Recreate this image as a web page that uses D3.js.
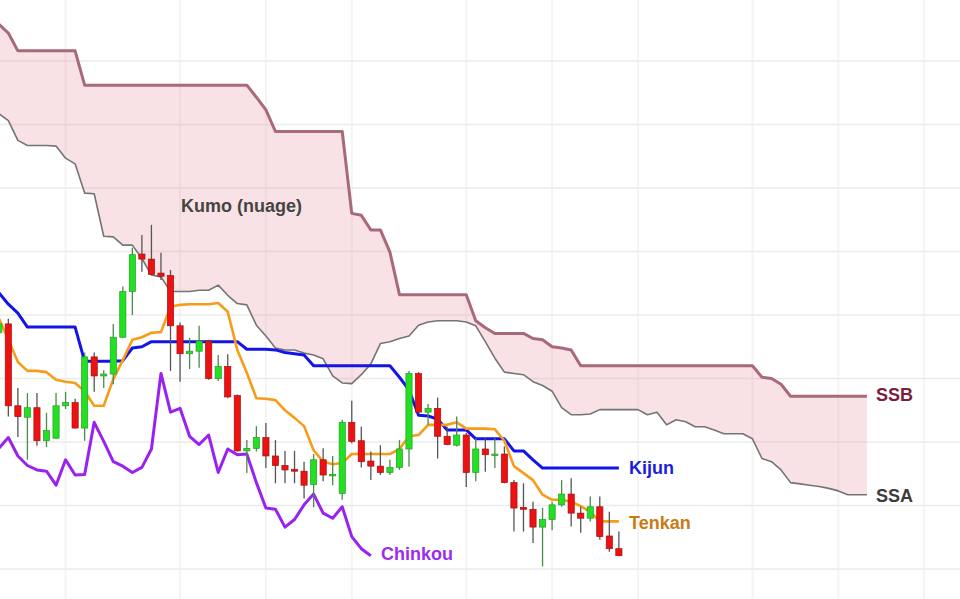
<!DOCTYPE html>
<html><head><meta charset="utf-8">
<script src="https://cdn.jsdelivr.net/npm/d3@7"></script>
<style>html,body{margin:0;padding:0;background:#fff;overflow:hidden}</style>
</head><body><svg id="chart" width="960" height="599"></svg>
<script>
// ---- Data (period index 0 = first visible candle) ----
const candleOpen  = [23.72,23.86,22.57,22.39,22.54,22.02,22.06,22.57,22.62,22.22,23.34,23.04,23.07,23.65,24.37,24.96,24.88,24.66,24.62,23.83,23.39,23.43,23.59,23.00,23.19,22.73,21.86,21.90,22.07,21.78,21.63,21.57,21.54,21.33,21.72,21.48,21.19,22.31,22.02,21.70,21.62,21.52,21.60,21.89,23.08,22.47,22.53,22.09,21.95,22.11,21.52,21.89,21.80,21.81,21.36,20.97,20.94,20.66,20.78,21.01,21.18,20.88,20.80,20.98,20.52,20.32];
const candleHigh  = [23.95,23.94,22.85,22.77,22.77,22.46,22.77,22.79,22.68,23.41,23.41,23.13,23.86,24.45,25.06,25.26,25.42,24.98,24.71,23.88,23.64,23.83,23.61,23.37,23.38,22.75,22.03,22.25,22.30,22.03,21.86,21.86,21.69,21.81,21.90,21.78,22.35,22.65,22.24,21.85,21.95,21.72,22.03,23.12,23.10,22.60,22.70,22.24,22.40,22.14,22.06,22.06,22.06,21.93,21.40,21.35,21.06,20.96,21.06,21.40,21.43,20.98,21.14,21.14,20.90,20.59];
const candleLow   = [23.67,22.40,22.08,21.72,21.94,21.92,22.05,22.52,22.21,22.02,22.79,22.85,22.91,23.64,24.00,24.68,24.63,24.55,23.12,22.95,23.15,23.17,22.98,22.96,22.69,21.85,21.51,21.85,21.59,21.35,21.35,21.35,21.11,20.97,21.38,21.32,21.09,21.98,21.60,21.40,21.48,21.48,21.56,21.61,22.46,22.27,21.74,21.95,21.93,21.29,21.38,21.53,21.59,21.35,20.59,20.59,20.41,20.04,20.61,20.98,20.67,20.57,20.75,20.46,20.27,20.20];
const candleClose = [23.86,22.57,22.40,22.54,22.02,22.18,22.57,22.62,22.22,23.34,23.04,23.07,23.65,24.37,24.95,24.88,24.64,24.61,23.83,23.39,23.43,23.59,23.00,23.19,22.71,21.86,21.90,22.07,21.78,21.63,21.56,21.54,21.32,21.72,21.48,21.49,22.31,22.01,21.69,21.62,21.52,21.60,21.89,23.08,22.47,22.53,22.09,21.96,22.11,21.52,21.89,21.80,21.81,21.36,20.96,20.94,20.66,20.78,21.01,21.18,20.88,20.80,20.98,20.51,20.32,20.21];

const tenkan = [23.95,23.61,23.26,23.12,23.12,23.10,22.98,22.95,22.93,22.80,22.57,22.57,22.99,23.29,23.61,23.65,23.72,23.73,24.13,24.16,24.17,24.17,24.17,24.19,24.05,23.45,23.09,22.69,22.68,22.66,22.50,22.38,22.25,21.87,21.69,21.65,21.67,21.81,21.81,21.81,21.81,21.81,21.89,22.09,22.11,22.27,22.27,22.27,22.31,22.21,22.21,22.21,22.20,22.02,21.62,21.51,21.40,21.17,21.09,21.09,21.06,20.99,20.90,20.75,20.75,20.75];
const kijun  = [24.35,24.17,24.03,23.81,23.81,23.81,23.81,23.81,23.81,23.27,23.27,23.27,23.27,23.28,23.48,23.50,23.58,23.58,23.58,23.58,23.58,23.58,23.58,23.58,23.58,23.58,23.46,23.46,23.46,23.45,23.41,23.39,23.37,23.20,23.20,23.20,23.20,23.20,23.20,23.20,23.20,23.20,23.02,22.82,22.42,22.41,22.36,22.19,22.19,22.19,22.05,22.05,22.05,22.05,21.86,21.86,21.72,21.59,21.59,21.59,21.59,21.59,21.59,21.59,21.59,21.59];
const chinkou = [21.90,22.07,21.78,21.63,21.56,21.54,21.32,21.72,21.48,21.49,22.31,22.01,21.69,21.62,21.52,21.60,21.89,23.08,22.47,22.53,22.09,21.96,22.11,21.52,21.89,21.80,21.81,21.36,20.96,20.94,20.66,20.78,21.01,21.18,20.88,20.80,20.98,20.51,20.32,20.21];
const ssa = [27.17,27.06,26.75,26.67,26.67,26.67,26.66,26.47,26.38,25.92,25.91,25.24,25.23,25.10,25.10,24.89,24.63,24.60,24.37,24.37,24.37,24.39,24.39,24.47,24.31,24.18,24.16,23.84,23.67,23.48,23.45,23.45,23.40,23.37,23.31,23.04,22.93,22.92,23.06,23.23,23.55,23.58,23.63,23.67,23.84,23.89,23.91,23.91,23.91,23.89,23.83,23.58,23.32,23.10,23.08,23.06,22.95,22.89,22.80,22.54,22.43,22.43,22.44,22.51,22.51,22.51,22.51,22.51,22.43,22.47,22.27,22.35,22.32,22.24,22.24,22.19,22.13,22.13,22.13,22.05,21.74,21.69,21.56,21.36,21.34,21.32,21.30,21.27,21.23,21.17,21.17,21.17];
const ssb = [28.58,28.44,28.16,28.16,28.16,28.16,28.16,28.16,28.16,27.62,27.62,27.62,27.62,27.62,27.62,27.62,27.62,27.62,27.62,27.62,27.62,27.62,27.62,27.62,27.62,27.62,27.62,27.43,27.23,26.89,26.89,26.89,26.89,26.89,26.89,26.89,26.89,25.60,25.57,25.34,25.34,24.99,24.32,24.32,24.32,24.32,24.32,24.32,24.32,24.32,23.91,23.80,23.71,23.71,23.71,23.71,23.63,23.61,23.50,23.48,23.45,23.20,23.20,23.20,23.20,23.20,23.20,23.20,23.20,23.20,23.20,23.20,23.20,23.20,23.20,23.20,23.20,23.20,23.20,23.20,23.02,23.00,22.91,22.72,22.72,22.72,22.72,22.72,22.72,22.72,22.72,22.72];

const priceTicks = [20,21,22,23,24,25,26,27,28];
const timeGridIndex = [7,19,28,37,49,58,67,79,88,97];

// ---- Scales ----
const W = 960, H = 599;
const x = d3.scaleLinear().domain([0, 91]).range([-1.2, 866.9]);
const y = d3.scaleLinear().domain([20, 28]).range([569, 61]);

const svg = d3.select('#chart');
svg.append('rect').attr('width', W).attr('height', H).attr('fill', '#fff');

// grid
svg.append('g').selectAll('line').data(timeGridIndex).join('line')
  .attr('x1', d => x(d)).attr('x2', d => x(d)).attr('y1', 0).attr('y2', H)
  .attr('stroke', '#f4f4f4').attr('stroke-width', 2);
svg.append('g').selectAll('line').data(priceTicks).join('line')
  .attr('x1', 0).attr('x2', W).attr('y1', d => y(d)).attr('y2', d => y(d))
  .attr('stroke', '#ebebeb').attr('stroke-width', 1.5);

// cloud
const cloudArea = d3.area().x((d, i) => x(i)).y0((d, i) => y(ssa[i])).y1(d => y(d));
svg.append('path').datum(ssb).attr('d', cloudArea)
  .attr('fill', 'rgb(232,150,160)').attr('fill-opacity', 0.28);

const lineGen = d3.line().x((d, i) => x(i)).y(d => y(d));
svg.append('path').datum(ssb).attr('d', lineGen).attr('fill', 'none')
  .attr('stroke', '#a86a7a').attr('stroke-width', 3).attr('stroke-linejoin', 'round');
svg.append('path').datum(ssa).attr('d', lineGen).attr('fill', 'none')
  .attr('stroke', '#747474').attr('stroke-width', 1.6).attr('stroke-linejoin', 'round');

// chinkou, kijun, tenkan
svg.append('path').datum(chinkou).attr('d', lineGen).attr('fill', 'none')
  .attr('stroke', '#9a22f0').attr('stroke-width', 3).attr('stroke-linejoin', 'round');
svg.append('path').datum(kijun).attr('d', lineGen).attr('fill', 'none')
  .attr('stroke', '#1414e6').attr('stroke-width', 3).attr('stroke-linejoin', 'round');
svg.append('path').datum(tenkan).attr('d', lineGen).attr('fill', 'none')
  .attr('stroke', '#f89c18').attr('stroke-width', 2.6).attr('stroke-linejoin', 'round');

// candles
const candles = candleOpen.map((o, i) => ({i, o, h: candleHigh[i], l: candleLow[i], c: candleClose[i]}));
const cg = svg.append('g');
const bw = 6.2;
cg.selectAll('line').data(candles).join('line')
  .attr('x1', d => x(d.i)).attr('x2', d => x(d.i))
  .attr('y1', d => y(d.h)).attr('y2', d => y(d.l))
  .attr('stroke', d => d.c >= d.o ? '#4a8a4a' : '#555').attr('stroke-width', 1.3);
cg.selectAll('rect').data(candles).join('rect')
  .attr('x', d => x(d.i) - bw / 2).attr('width', bw)
  .attr('y', d => y(Math.max(d.o, d.c)))
  .attr('height', d => Math.max(1.5, Math.abs(y(d.o) - y(d.c))))
  .attr('fill', d => d.c >= d.o ? '#22e022' : '#ee1111')
  .attr('stroke', d => d.c >= d.o ? '#2a9a2a' : '#a01010').attr('stroke-width', 0.7);

// labels
const font = '"Liberation Sans", Arial, sans-serif';
const labels = [
  {t: 'Kumo (nuage)', x: 181, y: 211.5, c: '#444444'},
  {t: 'SSB', x: 876, y: 400.5, c: '#7a1e3e'},
  {t: 'SSA', x: 876, y: 501.5, c: '#3c3c3c'},
  {t: 'Kijun', x: 629, y: 473.5, c: '#1c1ce0'},
  {t: 'Tenkan', x: 629, y: 528.5, c: '#c97a12'},
  {t: 'Chinkou', x: 381, y: 559.5, c: '#9b2cf0'}
];
svg.append('g').selectAll('text').data(labels).join('text')
  .attr('x', d => d.x).attr('y', d => d.y).text(d => d.t)
  .attr('fill', d => d.c).attr('font-family', font)
  .attr('font-weight', 'bold').attr('font-size', 18);
</script>
</body></html>
